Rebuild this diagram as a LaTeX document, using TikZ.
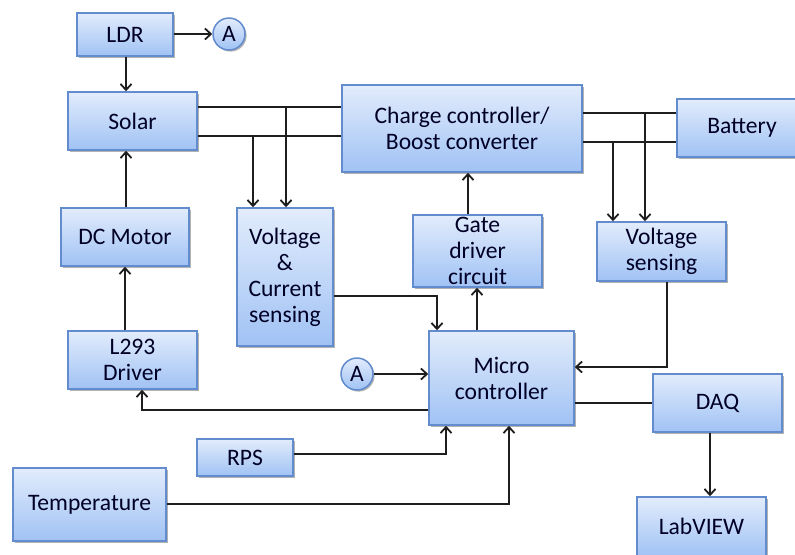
\documentclass[tikz,border=0pt]{standalone}
\usepackage{fontspec}
\setmainfont{Carlito}
\usetikzlibrary{arrows.meta,shadows}

\definecolor{boxtop}{RGB}{226,236,252}
\definecolor{boxbot}{RGB}{160,194,244}
\definecolor{boxline}{RGB}{98,140,206}
\definecolor{wire}{RGB}{30,30,30}

\tikzset{
  blk/.style={draw=boxline, line width=0.75pt, top color=boxtop, bottom color=boxbot,
    drop shadow={shadow xshift=1pt, shadow yshift=-1pt, opacity=0.3, fill=black},
    align=center, inner sep=0pt, text=black!85!blue,
    font=\fontsize{11.8}{13}\selectfont},
  conn/.style={circle, draw=boxline, line width=0.75pt, top color=boxtop, bottom color=boxbot,
    drop shadow={shadow xshift=0.8pt, shadow yshift=-0.8pt, opacity=0.3, fill=black},
    minimum size=16pt, inner sep=0pt, text=black!85!blue, font=\fontsize{11.8}{13}\selectfont},
  wireline/.style={draw=wire, line width=0.9pt},
  arr/.style={wireline, -{Straight Barb[length=3pt,width=5.5pt]}},
}

\begin{document}
\begin{tikzpicture}[x=0.5pt, y=-0.5pt]
  \useasboundingbox (0,0) rectangle (795,554);
  \clip (0,0) rectangle (795,554);

  % blocks (centres and sizes in px)
  \node[blk, minimum width=48pt,   minimum height=21.5pt] (ldr)   at (125,34.5)   {LDR};
  \node[blk, minimum width=64.5pt, minimum height=29pt]   (solar) at (132.5,121)  {Solar};
  \node[blk, minimum width=64pt,   minimum height=29pt]   (dcm)   at (125,237)    {DC Motor};
  \node[blk, minimum width=64.5pt, minimum height=29pt]   (l293)  at (132.5,360)  {L293\\Driver};
  \node[blk, minimum width=48pt,   minimum height=69pt]   (vcs)   at (285,277)    {Voltage\\\&\\Current\\sensing};
  \node[blk, minimum width=120pt,  minimum height=43.5pt] (cc)    at (462,128.5)  {Charge controller/\\Boost converter};
  \node[blk, minimum width=64.5pt, minimum height=36pt]   (gate)  at (477.5,251)  {Gate\\driver\\circuit};
  \node[blk, minimum width=65pt,   minimum height=29pt]   (bat)   at (742,128)    {Battery};
  \node[blk, minimum width=64.5pt, minimum height=29.5pt] (vs)    at (661.5,251.5){Voltage\\sensing};
  \node[blk, minimum width=72.5pt, minimum height=47pt]   (mcu)   at (501.5,378)  {Micro\\controller};
  \node[blk, minimum width=64.5pt, minimum height=29pt]   (daq)   at (717.5,403)  {DAQ};
  \node[blk, minimum width=64.5pt, minimum height=29.5pt] (lab)   at (701.5,526.5){LabVIEW};
  \node[blk, minimum width=48pt,   minimum height=18.5pt] (rps)   at (245,457.5)  {RPS};
  \node[blk, minimum width=76.5pt, minimum height=36.5pt] (temp)  at (89.5,504.5) {Temperature};
  \node[conn] (a1) at (229,34)  {A};
  \node[conn] (a2) at (357,374) {A};

  % junction points on the power lines
  \coordinate (jsa) at (286,107);
  \coordinate (jsb) at (253,136);
  \coordinate (jba) at (645,113);
  \coordinate (jbb) at (613,142);
  \coordinate (kv)  at (437,296);
  \coordinate (kb)  at (667,367);
  \coordinate (kl)  at (142,410);
  \coordinate (kr)  at (446,454);
  \coordinate (kt)  at (509,504);

  % LDR, solar and motor chain
  \draw[arr] (ldr.east |- a1) -- (a1.west);
  \draw[arr] (ldr.south -| 126,0) -- (solar.north -| 126,0);
  \draw[arr] (dcm.north -| 126,0) -- (solar.south -| 126,0);
  \draw[arr] (l293.north -| 125,0) -- (dcm.south -| 125,0);

  % solar to charge controller
  \draw[wireline] (solar.east |- jsa) -- (cc.west |- jsa);
  \draw[wireline] (solar.east |- jsb) -- (cc.west |- jsb);
  \draw[arr] (jsa) -- (vcs.north -| jsa);
  \draw[arr] (jsb) -- (vcs.north -| jsb);

  % charge controller to battery
  \draw[wireline] (cc.east |- jba) -- (bat.west |- jba);
  \draw[wireline] (cc.east |- jbb) -- (bat.west |- jbb);
  \draw[arr] (jba) -- (vs.north -| jba);
  \draw[arr] (jbb) -- (vs.north -| jbb);

  % gate drive path
  \draw[arr] (gate.north -| 468,0) -- (cc.south -| 468,0);
  \draw[arr] (mcu.north -| 477,0) -- (gate.south -| 477,0);

  % sensing into the micro controller
  \draw[arr] (vcs.east |- kv) -- (kv) -- (mcu.north -| kv);
  \draw[arr] (vs.south -| kb) -- (kb) -- (mcu.east |- kb);
  \draw[arr] (a2.east) -- (mcu.west |- a2);

  % micro controller to L293 driver
  \draw[arr] (mcu.west |- kl) -- (kl) -- (l293.south -| kl);

  % data acquisition
  \draw[wireline] (mcu.east |- 0,403) -- (daq.west |- 0,403);
  \draw[arr] (daq.south -| 710,0) -- (lab.north -| 710,0);

  % RPS and temperature inputs
  \draw[arr] (rps.east |- kr) -- (kr) -- (mcu.south -| kr);
  \draw[arr] (temp.east |- kt) -- (kt) -- (mcu.south -| kt);
\end{tikzpicture}
\end{document}
